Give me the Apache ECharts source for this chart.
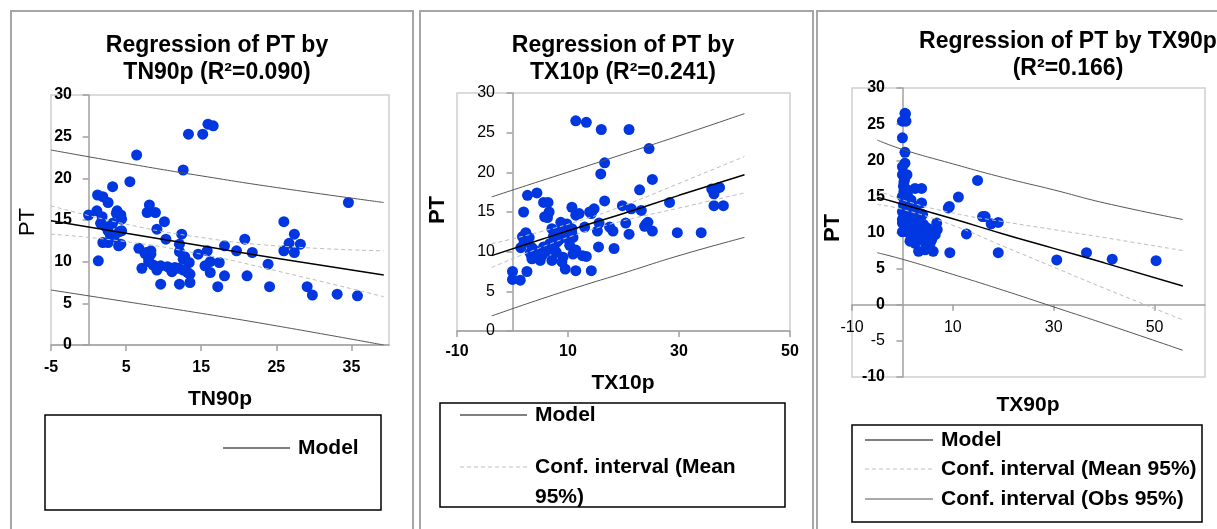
<!DOCTYPE html>
<html>
<head>
<meta charset="utf-8">
<title>Regression of PT</title>
<script src="https://cdn.jsdelivr.net/npm/echarts@6/dist/echarts.min.js"></script>
<style>
  html, body { margin: 0; padding: 0; background: #fff; }
  #chart { width: 1217px; height: 529px; }
</style>
</head>
<body>
<div id="chart"></div>
<script>
// ---- data ----
// panel 1 : PT vs TN90p
const tn90pPoints = [
  [0.0,15.6],[1.1,16.1],[1.3,10.1],[1.2,18.0],[1.9,17.8],[2.6,17.1],[1.8,15.4],[1.6,14.6],[1.9,12.3],[2.3,14.2],
  [2.6,12.3],[3.2,19.0],[2.9,13.2],[3.2,14.6],[3.7,15.8],[3.8,16.1],[4.0,11.9],[4.3,12.1],[4.1,13.6],[4.3,15.6],
  [4.4,15.1],[4.4,13.7],[3.4,13.0],[2.6,13.7],[5.5,19.6],[6.4,22.8],[6.7,11.6],[7.1,9.2],[7.7,11.1],[8.1,16.8],
  [7.8,15.9],[8.9,15.9],[8.3,10.9],[8.0,10.0],[8.6,9.6],[9.1,13.9],[9.1,9.0],[9.6,7.3],[10.1,14.8],[10.3,12.7],
  [9.6,9.5],[10.9,9.2],[11.1,8.8],[12.4,13.3],[12.1,12.1],[12.1,11.2],[12.6,10.3],[12.6,21.0],[12.1,7.3],[13.4,9.9],
  [13.3,25.3],[13.5,8.5],[13.5,7.5],[14.6,10.9],[15.2,25.3],[15.9,26.5],[16.6,26.3],[15.8,11.3],[15.5,9.5],[16.2,10.0],
  [16.2,8.7],[17.4,9.9],[17.2,7.0],[18.1,11.9],[18.1,8.3],[19.7,11.3],[20.8,12.7],[21.1,8.3],[21.8,11.1],[23.9,9.7],
  [24.1,7.0],[26.0,14.8],[26.0,11.3],[26.7,12.2],[27.4,13.3],[27.4,11.1],[28.2,12.1],[29.1,7.0],[29.8,6.0],[33.1,6.1],
  [34.6,17.1],[35.8,5.9],[7.5,11.0],[8.3,11.3],[8.0,10.4],[12.0,9.2],[12.6,9.0],[10.5,9.4],[12.8,10.6],[13.2,8.7],
  [7.9,10.7],[9.0,9.4],[11.5,9.3],[4.1,12.0]
];
const tn90pLineX = [-5, 5, 15, 25, 39.3];
const tn90pModel = [14.9, 13.4, 11.9, 10.4, 8.4];
const tn90pMeanUp = [16.7, 14.5, 12.9, 11.9, 11.3];
const tn90pMeanLo = [13.3, 12.4, 10.9, 8.9, 5.8];
const tn90pObsUp = [23.4, 21.8, 20.3, 18.9, 17.1];
const tn90pObsLo = [6.6, 5.2, 3.8, 2.3, 0.0];

// panel 2 : PT vs TX10p
const tx10pPoints = [
  [11.4,26.5],[13.3,26.3],[16.0,25.4],[21.0,25.4],[24.6,23.0],[16.6,21.2],[15.9,19.8],[25.2,19.1],[22.9,17.8],[28.3,16.2],
  [16.6,16.4],[35.9,17.9],[37.3,18.1],[36.3,17.3],[36.3,15.8],[38.0,15.8],[19.8,15.8],[21.4,15.4],[23.2,15.2],[20.4,13.6],
  [21.0,12.2],[24.4,13.7],[23.8,13.2],[25.2,12.6],[29.7,12.4],[34.0,12.4],[18.3,10.4],[17.5,13.1],[18.1,12.6],[15.6,13.6],
  [15.3,12.6],[15.5,10.6],[10.7,15.6],[11.4,14.6],[12.0,14.8],[14.2,14.8],[14.7,15.4],[13.0,13.1],[12.6,9.5],[13.3,9.4],
  [11.4,7.6],[14.2,7.6],[10.9,9.7],[11.4,10.2],[10.7,12.3],[0.0,7.5],[0.0,6.5],[1.4,6.4],[2.6,7.5],[2.0,15.0],
  [2.7,17.1],[4.4,17.4],[5.6,16.2],[6.4,16.2],[5.8,14.4],[6.6,15.0],[6.3,14.3],[2.4,12.4],[1.8,11.9],[2.6,11.5],
  [2.1,11.2],[1.5,10.5],[3.5,10.5],[3.2,9.8],[4.1,10.1],[4.4,9.3],[3.5,9.1],[5.0,8.9],[5.3,9.5],[5.6,10.6],
  [6.7,11.0],[7.1,8.9],[7.9,9.9],[7.1,12.9],[7.4,12.0],[8.4,11.5],[8.7,13.7],[9.8,13.5],[10.1,12.3],[8.9,12.7],
  [9.5,11.8],[10.7,12.9],[10.9,11.8],[10.3,10.8],[11.2,10.1],[9.1,9.3],[9.5,7.8],[8.9,8.7],[13.9,15.0],[24.1,13.5],
  [8.0,11.2],[6.0,10.0],[3.0,11.8],[4.8,9.8],[7.6,10.2]
];
const tx10pLineX = [-3.75, 5, 13, 20, 30, 41.8];
const tx10pModel = [9.5, 11.5, 13.3, 14.8, 17.1, 19.7];
const tx10pMeanUp = [11.0, 12.5, 14.1, 15.8, 18.6, 22.0];
const tx10pMeanLo = [8.0, 10.5, 12.5, 13.9, 15.5, 17.4];
const tx10pObsUp = [16.9, 18.9, 20.7, 22.3, 24.6, 27.4];
const tx10pObsLo = [1.9, 4.0, 5.8, 7.3, 9.5, 11.8];

// panel 3 : PT vs TX90p
const tx90pPoints = [
  [0.5,26.5],[0.6,26.4],[0.0,25.4],[0.7,25.4],[0.0,23.1],[0.5,21.1],[0.5,19.6],[0.0,19.1],[0.0,18.0],[0.5,17.6],
  [0.3,17.0],[2.5,16.1],[3.8,16.1],[0.3,15.7],[0.0,15.0],[0.6,14.8],[0.2,13.8],[0.7,13.4],[0.0,12.9],[0.3,12.2],
  [0.6,11.8],[0.0,11.3],[3.8,14.1],[2.5,13.6],[1.9,13.1],[2.9,12.9],[2.2,12.2],[3.5,11.8],[1.5,11.6],[4.2,11.1],
  [2.5,10.8],[3.8,10.6],[4.8,10.1],[1.2,10.1],[3.2,9.7],[4.5,9.5],[5.5,9.7],[6.8,11.3],[6.9,10.4],[6.5,9.7],
  [5.8,9.0],[1.5,8.8],[2.5,8.5],[4.2,8.8],[5.5,8.5],[3.2,7.4],[4.5,7.6],[6.1,7.4],[9.4,7.2],[0.0,10.1],
  [0.0,11.8],[11.1,14.9],[9.1,13.4],[9.3,13.6],[12.7,9.8],[14.9,17.2],[15.9,12.2],[16.4,12.2],[17.6,11.2],[19.0,11.4],
  [19.0,7.2],[30.6,6.2],[36.5,7.2],[41.6,6.3],[50.3,6.1],[0.2,16.4],[0.8,16.0],[0.4,14.3],[1.0,15.2],[1.2,13.9],
  [0.9,12.6],[1.6,12.8],[2.0,11.0],[1.0,10.5],[2.8,10.1],[3.5,9.2],[2.0,9.4],[1.3,9.9],[5.0,10.6],[4.0,12.5],
  [0.4,17.3],[0.9,18.0],[3.0,11.4],[1.7,14.5],[2.2,9.0]
];
const tx90pLineX = [-5, 0, 10, 20, 30, 40, 55.6];
const tx90pModel = [14.9, 13.9, 11.9, 9.8, 7.8, 5.8, 2.6];
const tx90pMeanUp = [15.9, 14.5, 12.7, 11.5, 10.4, 9.3, 7.5];
const tx90pMeanLo = [13.9, 13.2, 11.0, 8.1, 5.2, 2.3, -2.1];
const tx90pObsUp = [22.8, 21.5, 19.5, 17.6, 15.9, 14.1, 11.8];
const tx90pObsLo = [7.2, 6.3, 4.2, 2.0, -0.3, -2.6, -6.3];

// tick labels
const tn90pTicks = [-5, 5, 15, 25, 35];
const tx10pTicks = [-10, 10, 30, 50];
const tx90pTicks = [-10, 10, 30, 50];
const ptTicks = [0, 5, 10, 15, 20, 25, 30];
const ptTicksNeg = [-10, -5, 0, 5, 10, 15, 20, 25, 30];

const titles = ['Regression of PT by\nTN90p (R\u00b2=0.090)', 'Regression of PT by\nTX10p (R\u00b2=0.241)', 'Regression of PT by TX90p\n(R\u00b2=0.166)'];

// ---- layout ----
const FONT = "'Liberation Sans', Arial, sans-serif";
const dotColor = '#0037e0';
const axisGray = '#a0a0a0';

const pair = (xs, ys) => xs.map((x, i) => [x, ys[i]]);

// label margins are negative: v6 keeps labels on the grid edge, the reference puts them beside the zero line
const panels = [
  { points: tn90pPoints, lx: tn90pLineX, model: tn90pModel, mu: tn90pMeanUp, ml: tn90pMeanLo, ou: tn90pObsUp, ol: tn90pObsLo,
    grid: { left: 51, top: 95, width: 338, height: 250 }, xmin: -5, xmax: 40, ymin: 0, ymax: 30,
    xt: tn90pTicks, yt: ptTicks, xBold: true, yBold: true, xMargin: 15, yMargin: -21 },
  { points: tx10pPoints, lx: tx10pLineX, model: tx10pModel, mu: tx10pMeanUp, ml: tx10pMeanLo, ou: tx10pObsUp, ol: tx10pObsLo,
    grid: { left: 457, top: 93, width: 333, height: 238 }, xmin: -10, xmax: 50, ymin: 0, ymax: 30,
    xt: tx10pTicks, yt: ptTicks, xBold: true, yBold: false, xMargin: 13, yMargin: -38 },
  { points: tx90pPoints, lx: tx90pLineX, model: tx90pModel, mu: tx90pMeanUp, ml: tx90pMeanLo, ou: tx90pObsUp, ol: tx90pObsLo,
    grid: { left: 852, top: 88, width: 353, height: 289 }, xmin: -10, xmax: 60, ymin: -10, ymax: 30,
    xt: tx90pTicks, yt: ptTicksNeg, xBold: false, yBold: true, xMargin: -57, yMargin: -33 }
];

const titleCenters = [[212, 27], [618, 27], [1063, 23]];

const richLabels = {
  b: { fontFamily: FONT, fontSize: 16, fontWeight: 'bold', color: '#000' },
  r: { fontFamily: FONT, fontSize: 16, fontWeight: 'normal', color: '#000' }
};

const grids = [], xAxes = [], yAxes = [], series = [];
panels.forEach((p, i) => {
  grids.push(Object.assign({ show: true, borderColor: '#d0d0d0', borderWidth: 1.5, backgroundColor: 'transparent' }, p.grid));
  xAxes.push({
    type: 'value', gridIndex: i, min: p.xmin, max: p.xmax,
    axisLine: { onZero: true, lineStyle: { color: axisGray, width: 1.5 } },
    axisTick: { customValues: p.xt, length: 6, lineStyle: { color: axisGray, width: 1.5 } },
    axisLabel: { customValues: p.xt, margin: p.xMargin, fontFamily: FONT, fontSize: 16,
      fontWeight: p.xBold ? 'bold' : 'normal', color: '#000' },
    splitLine: { show: false }
  });
  yAxes.push({
    type: 'value', gridIndex: i, min: p.ymin, max: p.ymax,
    axisLine: { onZero: true, lineStyle: { color: axisGray, width: 1.5 } },
    axisTick: { customValues: p.yt, length: 6, lineStyle: { color: axisGray, width: 1.5 } },
    axisLabel: { customValues: p.yt, margin: p.yMargin, rich: richLabels,
      formatter: v => (p.yBold && v !== -5 ? '{b|' : '{r|') + v + '}' },
    splitLine: { show: false }
  });
  series.push({
    name: 'PT', type: 'scatter', xAxisIndex: i, yAxisIndex: i, data: p.points,
    symbol: 'circle', symbolSize: 11, itemStyle: { color: dotColor, opacity: 1 }, z: 2
  });
  const line = (name, ys, style) => ({
    name, type: 'line', xAxisIndex: i, yAxisIndex: i, data: pair(p.lx, ys),
    showSymbol: false, symbol: 'none', smooth: true, lineStyle: style, z: 3, silent: true
  });
  series.push(line('Model', p.model, { color: '#000', width: 1.5 }));
  series.push(line('Conf. interval (Mean 95%)', p.mu, { color: '#bdbdbd', width: 1, type: [4, 3] }));
  series.push(line('Conf. interval (Mean 95%)', p.ml, { color: '#bdbdbd', width: 1, type: [4, 3] }));
  series.push(line('Conf. interval (Obs 95%)', p.ou, { color: '#555', width: 1 }));
  series.push(line('Conf. interval (Obs 95%)', p.ol, { color: '#555', width: 1 }));
});

const txt = (text, x, y, opts) => ({
  type: 'text', x, y, rotation: (opts && opts.rot) || 0, z: 10,
  style: { text, fontFamily: FONT, fontSize: (opts && opts.size) || 21, fontWeight: opts && opts.normal ? 'normal' : 'bold',
    fill: '#000', align: (opts && opts.align) || 'left', verticalAlign: 'middle' }
});
const seg = (x1, y1, x2, y2, stroke, dash, w) => ({
  type: 'line', z: 10, shape: { x1, y1, x2, y2 },
  style: { stroke, lineWidth: w || 1.2, lineDash: dash || null }
});
const box = (x, y, w, h, stroke, lw) => ({
  type: 'rect', z: 0, shape: { x, y, width: w, height: h },
  style: { fill: 'none', stroke, lineWidth: lw }
});

const graphic = [
  // panel frames
  box(11, 11, 402, 540, '#a6a6a6', 2),
  box(420, 11, 393, 540, '#a6a6a6', 2),
  box(817, 11, 420, 540, '#a6a6a6', 2),
  // axis names
  txt('PT', 28, 222, { rot: Math.PI / 2, align: 'center', normal: true, size: 22 }),
  txt('PT', 438, 210, { rot: Math.PI / 2, align: 'center', size: 22 }),
  txt('PT', 833, 228, { rot: Math.PI / 2, align: 'center', size: 22 }),
  txt('TN90p', 220, 399, { align: 'center' }),
  txt('TX10p', 623, 383, { align: 'center' }),
  txt('TX90p', 1028, 405, { align: 'center' }),
  // legend boxes
  box(45, 415, 336, 95, '#000', 1.5),
  seg(223, 448, 290, 448, '#000'),
  txt('Model', 298, 448),
  box(440, 403, 345, 104, '#000', 1.5),
  seg(460, 415, 527, 415, '#000'),
  txt('Model', 535, 415),
  seg(460, 467, 527, 467, '#bdbdbd', [4, 3]),
  txt('Conf. interval (Mean', 535, 467),
  txt('95%)', 535, 497),
  box(852, 425, 350, 97, '#000', 1.5),
  seg(865, 440, 933, 440, '#000'),
  txt('Model', 941, 440),
  seg(865, 469, 933, 469, '#bdbdbd', [4, 3]),
  txt('Conf. interval (Mean 95%)', 941, 469),
  seg(865, 499, 933, 499, '#555'),
  txt('Conf. interval (Obs 95%)', 941, 499)
];

const chart = echarts.init(document.getElementById('chart'), null, { renderer: 'canvas' });
chart.setOption({
  animation: false,
  backgroundColor: '#fff',
  title: titles.map((t, i) => ({
    text: t, left: titleCenters[i][0], top: titleCenters[i][1], textAlign: 'center',
    textStyle: { fontFamily: FONT, fontSize: 23, fontWeight: 'bold', color: '#000', lineHeight: 27 }
  })),
  grid: grids,
  xAxis: xAxes,
  yAxis: yAxes,
  series,
  graphic
});
</script>
</body>
</html>
